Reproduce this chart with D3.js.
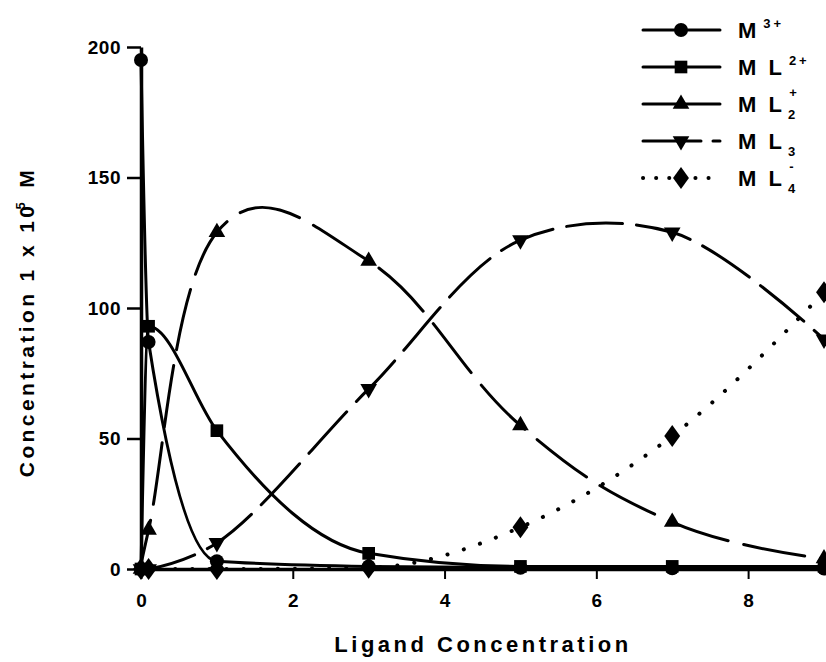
<!DOCTYPE html>
<html>
<head>
<meta charset="utf-8">
<script src="https://cdn.jsdelivr.net/npm/d3@7"></script>
<style>
  body { margin: 0; background: #fff; }
  text { font-family: 'Liberation Sans', Arial, sans-serif; font-weight: bold; fill: #000; }
</style>
</head>
<body>
<script>
// ligand concentration (x) and species concentrations
const ligand = [0, 0.1, 1, 3, 5, 7, 9];
const m3 = [195, 87, 3, 1, 0.5, 0.3, 0.2];
const ml = [0, 93, 53, 6, 1, 1, 1];
const ml2 = [0, 15, 129, 118, 55, 18, 4];
const ml3 = [0, 0, 10, 69, 126, 129, 88];
const ml4 = [0, 0, 0, 0.5, 16, 51, 106];

const xTicks = [0, 2, 4, 6, 8];
const yTicks = [0, 50, 100, 150, 200];

// chart size
const W = 826, H = 662;
const x0 = 141, x1 = 824;
const yBottom = 569, yTop = 47;

const x = d3.scaleLinear().domain([0, 9]).range([x0, x1]);
const y = d3.scaleLinear().domain([0, 200]).range([yBottom, yTop]);

const series = [
    { vals: m3, marker: 'circle', dash: null, curve: d3.curveMonotoneX, legendDash: null, name: ['M', '', '3+'] },
    { vals: ml, marker: 'square', dash: null, curve: d3.curveMonotoneX, legendDash: null, name: ['M L', '', '2+'] },
    { vals: ml2, marker: 'triangle', dash: '62,16', curve: d3.curveCardinal.tension(-0.2), legendDash: null, name: ['M L', '2', '+'] },
    { vals: ml3, marker: 'triangleDown', dash: '56,14', curve: d3.curveCatmullRom, legendDash: '58,12,8,40', name: ['M L', '3', ''] },
    { vals: ml4, marker: 'diamond', dash: '0.1,17', curve: d3.curveMonotoneX, legendDash: '0.1,13', name: ['M L', '4', '-'] }
];

const svg = d3.select('body').append('svg')
    .attr('width', W)
    .attr('height', H);

// axes
const xAxis = svg.append('g')
    .attr('transform', `translate(0,${yBottom})`)
    .call(d3.axisBottom(x).tickValues(xTicks).tickSize(10).tickPadding(15).tickSizeOuter(0));
xAxis.select('.domain').attr('stroke-width', 3.5);
xAxis.selectAll('.tick line').attr('stroke-width', 2);
xAxis.selectAll('.tick text').attr('font-size', 19).attr('font-family', null);

const yAxis = svg.append('g')
    .attr('transform', `translate(${x0},0)`)
    .call(d3.axisLeft(y).tickValues(yTicks).tickSize(14).tickPadding(6).tickSizeOuter(0));
yAxis.select('.domain').attr('stroke-width', 3.5);
yAxis.selectAll('.tick line').attr('stroke-width', 2.5);
yAxis.selectAll('.tick text').attr('font-size', 19).attr('font-family', null).attr('letter-spacing', 0.5);

// axis titles
svg.append('text')
    .attr('x', 483)
    .attr('y', 652)
    .attr('text-anchor', 'middle')
    .attr('font-size', 22)
    .attr('letter-spacing', 3.5)
    .text('Ligand Concentration');

const yl = svg.append('text')
    .attr('transform', 'translate(34,322) rotate(-90)')
    .attr('text-anchor', 'middle')
    .attr('font-size', 21)
    .attr('letter-spacing', 3.4);
yl.append('tspan').text('Concentration 1 x 10');
yl.append('tspan').attr('font-size', 13).attr('dx', -7).attr('dy', -9).text('5');
yl.append('tspan').attr('dy', 9).attr('dx', 2).text(' M');

// markers
function drawMarker(g, type, cx, cy) {
    if (type === 'circle') {
        g.append('circle').attr('cx', cx).attr('cy', cy).attr('r', 7);
    } else {
        const sym = { square: d3.symbolSquare, triangle: d3.symbolTriangle, triangleDown: d3.symbolTriangle, diamond: d3.symbolDiamond }[type];
        const size = { square: 160, triangle: 120, triangleDown: 120, diamond: 140 }[type];
        g.append('path')
            .attr('d', d3.symbol().type(sym).size(size)())
            .attr('transform', `translate(${cx},${cy})` + (type === 'triangleDown' ? ' rotate(180)' : '') + (type === 'diamond' ? ' scale(1.25,1)' : ''));
    }
}

const plot = svg.append('g');

series.forEach(s => {
    const pts = ligand.map((l, i) => [l, s.vals[i]]);
    const line = d3.line()
        .x(d => x(d[0]))
        .y(d => y(d[1]))
        .curve(s.curve);
    plot.append('path')
        .datum(pts)
        .attr('fill', 'none')
        .attr('stroke', '#000')
        .attr('stroke-width', s.dash && s.dash.startsWith('0.1') ? 4 : 3)
        .attr('stroke-linecap', 'round')
        .attr('stroke-dasharray', s.dash)
        .attr('d', line);
});

series.forEach(s => {
    const g = plot.append('g').attr('fill', '#000');
    ligand.forEach((l, i) => drawMarker(g, s.marker, x(l), y(s.vals[i])));
});

// legend
const lgX0 = 643, lgX1 = 720, lgMark = 681, lgText = 738;
series.forEach((s, i) => {
    const ly = 30 + i * 37;
    const g = svg.append('g').attr('fill', '#000');
    g.append('line')
        .attr('x1', lgX0).attr('x2', lgX1)
        .attr('y1', ly).attr('y2', ly)
        .attr('stroke', '#000')
        .attr('stroke-width', s.marker === 'diamond' ? 4 : 3)
        .attr('stroke-linecap', 'round')
        .attr('stroke-dasharray', s.legendDash);
    drawMarker(g, s.marker, lgMark, ly);
    const t = g.append('text')
        .attr('x', lgText)
        .attr('y', ly + 8)
        .attr('font-size', 22)
        .attr('letter-spacing', 3);
    t.append('tspan').text(s.name[0]);
    if (s.name[1]) {
        t.append('tspan').attr('font-size', 13).attr('dx', 3).attr('dy', 7).text(s.name[1]);
        if (s.name[2]) t.append('tspan').attr('font-size', 13).attr('dx', -9).attr('dy', -22).text(s.name[2]);
    } else if (s.name[2]) {
        t.append('tspan').attr('font-size', 13).attr('dx', 4).attr('dy', -10).text(s.name[2]);
    }
});
</script>
</body>
</html>
